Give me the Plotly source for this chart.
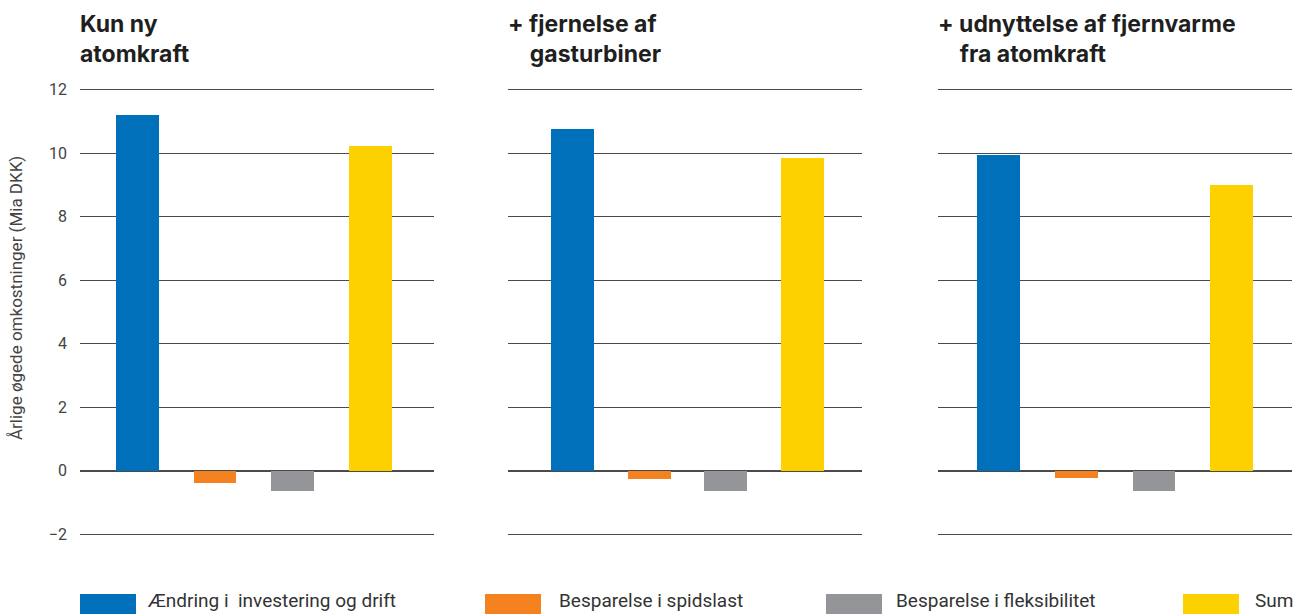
import plotly.graph_objects as go

# ---- data ----
scenarios = ["Kun ny<br>atomkraft",
             "+ fjernelse af<br>\u00a0\u00a0\u00a0\u00a0gasturbiner",
             "+ udnyttelse af fjernvarme<br>\u00a0\u00a0\u00a0\u00a0fra atomkraft"]
series_names = ["Ændring i  investering og drift", "Besparelse i spidslast",
                "Besparelse i fleksibilitet", "Sum"]
investering = [11.2, 10.77, 9.95]
spidslast = [-0.40, -0.27, -0.24]
fleksibilitet = [-0.65, -0.65, -0.65]
total = [10.22, 9.85, 9.0]
y_ticks = [-2, 0, 2, 4, 6, 8, 10, 12]
colors = ["#0070BA", "#F58220", "#939598", "#FDD100"]

series_values = [investering, spidslast, fleksibilitet, total]

W, H = 1308, 614
Y_LO, Y_HI = -2.15, 12.15
PXU = (534 - 90) / 14.0
ML, MR = 80, 16
MT = int(round(90 - (Y_HI - 12) * PXU))
MB = int(round(H - 534 - (-2 - Y_LO) * PXU))
PW = W - ML - MR
PH = H - MT - MB

def xp(px):
    return (px - ML) / PW

def yp(py):
    return (H - MB - py) / PH

domains = [[xp(80), xp(434)], [xp(508), xp(862)], [xp(938), xp(1292)]]
x_ranges = [[-0.74, 3.82], [-0.84, 3.775], [-0.78, 3.776]]
bar_widths = [0.55, 0.56, 0.55]

fig = go.Figure()
for p in range(3):
    xa = "x" if p == 0 else f"x{p+1}"
    ya = "y" if p == 0 else f"y{p+1}"
    for s in range(4):
        fig.add_trace(go.Bar(
            x=[s], y=[series_values[s][p]], width=bar_widths[p],
            marker=dict(color=colors[s], line=dict(width=0)),
            xaxis=xa, yaxis=ya, showlegend=False, name=series_names[s]))

axis_common = dict(showticklabels=False, showgrid=False,
                   zeroline=False, showline=False, fixedrange=True)
yaxis_common = dict(range=[Y_LO, Y_HI], tickvals=y_ticks, showgrid=True,
                    gridcolor="#4a4a4a", gridwidth=1.3, zeroline=True,
                    zerolinecolor="#4a4a4a", zerolinewidth=1.5, showline=False)

layout = dict(
    width=W, height=H, margin=dict(l=ML, r=MR, t=MT, b=MB),
    plot_bgcolor="white", paper_bgcolor="white",
    font=dict(family="Roboto, sans-serif", color="#333"),
    bargap=0, showlegend=False,
)
for p in range(3):
    k = "" if p == 0 else str(p + 1)
    layout["xaxis" + k] = dict(domain=domains[p], anchor="y" + k,
                               range=x_ranges[p], **axis_common)
    ya = dict(anchor="x" + k, **yaxis_common)
    if p == 0:
        ya.update(showticklabels=True, tickfont=dict(size=16, color="#444"),
                  ticklabelstandoff=12, ticks="")
    else:
        ya.update(showticklabels=False, matches="y")
    layout["yaxis" + k] = ya
fig.update_layout(**layout)

annotations = []
# panel titles
title_x = [80, 508, 938]
for p in range(3):
    annotations.append(dict(
        text=f"<b>{scenarios[p]}</b>", xref="paper", yref="paper",
        x=xp(title_x[p] - 2), y=yp(8), xanchor="left", yanchor="top",
        align="left", showarrow=False,
        font=dict(size=23, color="#1f1f1f", family="Inter, sans-serif")))
# y-axis title
annotations.append(dict(
    text="Årlige øgede omkostninger (Mia DKK)", xref="paper", yref="paper",
    x=xp(16), y=yp(298), xanchor="center", yanchor="middle",
    textangle=-90, showarrow=False, font=dict(size=17, color="#444")))

# legend (manual, large swatches)
leg_sw = [80, 485, 826, 1183]
leg_tx = [145, 557, 894, 1253]
shapes = []
for s in range(4):
    shapes.append(dict(type="rect", xref="paper", yref="paper",
                       x0=xp(leg_sw[s]), x1=xp(leg_sw[s] + 56),
                       y0=yp(614), y1=yp(594),
                       fillcolor=colors[s], line=dict(width=0)))
    annotations.append(dict(
        text=series_names[s].replace("  ", "\u00a0 "), xref="paper", yref="paper",
        x=xp(leg_tx[s]), y=yp(614), xanchor="left", yanchor="bottom",
        showarrow=False, font=dict(size=19, color="#333")))

fig.update_layout(annotations=annotations, shapes=shapes)
fig.write_html("out.html", config={"displayModeBar": False},
               post_script="document.body.style.margin='0';document.body.style.overflow='hidden';")
